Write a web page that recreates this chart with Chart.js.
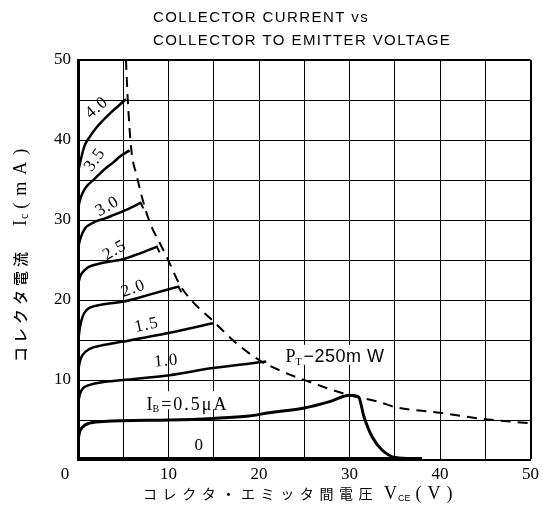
<!DOCTYPE html>
<html>
<head>
<meta charset="utf-8">
<script src="https://cdn.jsdelivr.net/npm/chart.js@4/dist/chart.umd.min.js"></script>
<style>
  html, body { margin: 0; padding: 0; background: #fff; }
</style>
</head>
<body>
<canvas id="c" width="543" height="517"></canvas>
<script>
// values: Vce (V) and Ic (mA) for each base current curve
const vce40 = [0, 0.3, 0.7, 1.3, 2.0, 2.8, 3.6, 4.3, 5.3]
const ic40 = [36, 37.5, 39.2, 40.4, 41.5, 42.5, 43.4, 44.1, 45.1]
const vce35 = [0, 0.3, 0.7, 1.2, 1.7, 2.5, 3.2, 4.0, 4.6, 5.7]
const ic35 = [31.5, 32.8, 33.8, 34.5, 35.0, 35.9, 36.6, 37.3, 37.9, 38.7]
const vce30 = [0, 0.3, 0.8, 1.4, 2.1, 3.0, 3.9, 5.4, 7.0]
const ic30 = [26.5, 27.8, 29.0, 29.5, 29.9, 30.2, 30.6, 31.3, 32.2]
const vce25 = [0, 0.3, 0.8, 1.3, 2.2, 3.5, 5.0, 7.0, 8.8]
const ic25 = [22.0, 23.1, 23.8, 24.2, 24.5, 24.8, 25.1, 25.9, 26.7]
const vce20 = [0, 0.2, 0.5, 1.0, 1.7, 3.0, 5.0, 8.0, 11.2]
const ic20 = [14.6, 16.5, 17.9, 18.8, 19.2, 19.5, 19.8, 20.7, 21.7]
const vce15 = [0, 0.2, 0.5, 1.3, 2.5, 5.0, 10.1, 14.9]
const ic15 = [11.0, 12.3, 13.1, 13.9, 14.3, 14.8, 15.9, 17.1]
const vce10 = [0, 0.2, 0.5, 1.3, 2.5, 5.0, 10.1, 14.9, 20.8]
const ic10 = [7.0, 8.2, 8.9, 9.4, 9.7, 10.0, 10.6, 11.5, 12.3]
const vce05 = [0, 0.2, 0.5, 1.0, 2.8, 10.1, 14.9, 18.9, 21.1, 25.0, 27.8, 30.0, 31.0, 31.6, 32.5, 33.6, 35.1, 37.5]
const ic05 = [2.5, 3.6, 4.1, 4.5, 4.8, 5.0, 5.2, 5.5, 5.9, 6.5, 7.3, 8.1, 7.9, 5.4, 2.9, 1.25, 0.3, 0.15]
const vce00 = [0, 38]
const ic00 = [0.15, 0.15]
// PT = 250 mW limit (dashed)
const vcePt = [5.3, 5.5, 5.9, 6.5, 7.2, 8.0, 9.0, 9.8, 11.2, 12.5, 14.9, 17.5, 20.0, 22.5, 25, 30, 33.3, 35.1, 40, 45, 50]
const icPt = [50, 45, 38.7, 35.5, 32.3, 29.5, 27.2, 25.4, 22.0, 20.0, 17.4, 14.6, 12.5, 11.1, 10, 8.1, 7.25, 6.6, 5.9, 5.1, 4.6]

const xTicks = [10, 20, 30, 40, 50]
const yTicks = [10, 20, 30, 40, 50]

const SERIF = "'Liberation Serif', 'DejaVu Serif', serif"
const SANS = "'Liberation Sans', Arial, sans-serif"
const CJK = "'Noto Sans CJK JP', sans-serif"

const pts = (xs, ys) => xs.map((x, i) => ({ x: x, y: ys[i] }))

const curve = (xs, ys, w) => ({
  data: pts(xs, ys),
  borderColor: '#000',
  borderWidth: w || 2.5,
  pointRadius: 0,
  showLine: true,
  fill: false,
  cubicInterpolationMode: 'monotone'
})

// draw a run of text pieces (for subscripts), centred on x,y
function rich(ctx, parts, x, y, angle, align) {
  ctx.save()
  ctx.translate(x, y)
  ctx.rotate(angle || 0)
  ctx.textBaseline = 'alphabetic'
  ctx.textAlign = 'left'
  let w = 0
  parts.forEach(p => {
    ctx.font = p.f
    ctx.letterSpacing = (p.ls || 0) + 'px'
    p.w = ctx.measureText(p.t).width + (p.gap || 0)
    w += p.w
  })
  let cx = align === 'left' ? 0 : -w / 2
  parts.forEach(p => {
    ctx.font = p.f
    ctx.letterSpacing = (p.ls || 0) + 'px'
    ctx.fillStyle = '#000'
    ctx.fillText(p.t, cx, p.dy || 0)
    cx += p.w
  })
  ctx.restore()
  return w
}

// curve labels, placed in data units
const curveLabels = [
  { t: '4.0', v: 2.4, i: 43.6, a: -40 },
  { t: '3.5', v: 2.3, i: 37.2, a: -55 },
  { t: '3.0', v: 3.5, i: 31.2, a: -30 },
  { t: '2.5', v: 4.3, i: 25.7, a: -30 },
  { t: '2.0', v: 6.3, i: 20.9, a: -20 },
  { t: '1.5', v: 7.7, i: 16.3, a: -12 },
  { t: '1.0', v: 9.8, i: 11.8, a: -5 },
  { t: '0', v: 13.4, i: 1.2, a: 0 }
]

const textPlugin = {
  id: 'texts',
  beforeDatasetsDraw(chart) {
    const ctx = chart.ctx
    const xs = chart.scales.x, ys = chart.scales.y
    const px = v => xs.getPixelForValue(v), py = i => ys.getPixelForValue(i)

    // white patches behind the in-plot labels
    ctx.save()
    ctx.fillStyle = '#fff'
    ctx.fillRect(px(7.1), py(8.6), 96, 18)
    ctx.fillRect(px(22.6), py(14.4), 106, 20)
    ctx.restore()

    curveLabels.forEach(l => {
      rich(ctx, [{ t: l.t, f: '17px ' + SERIF, ls: 1 }], px(l.v), py(l.i), l.a * Math.PI / 180)
    })
    rich(ctx, [
      { t: 'I', f: '18px ' + SERIF },
      { t: 'B', f: '10px ' + SERIF, dy: 2, gap: 2 },
      { t: '=0.5μA', f: '18px ' + SERIF, ls: 2 }
    ], px(12.1), py(6.3))
    rich(ctx, [
      { t: 'P', f: '18px ' + SERIF },
      { t: 'T', f: '10px ' + SERIF, dy: 3, gap: 2 },
      { t: '−250m W', f: '18px ' + SANS, ls: 0.5 }
    ], px(28.4), py(12.2))
  },
  afterDatasetsDraw(chart) {
    // short end marks where the curves meet the dissipation limit
    const ctx = chart.ctx
    const xs = chart.scales.x, ys = chart.scales.y
    const ends = [[vce30, ic30], [vce25, ic25], [vce20, ic20]]
    ctx.save()
    ctx.strokeStyle = '#000'
    ctx.lineWidth = 2
    ends.forEach(([vx, iy]) => {
      const x = xs.getPixelForValue(vx[vx.length - 1]), y = ys.getPixelForValue(iy[iy.length - 1])
      ctx.beginPath()
      ctx.moveTo(x - 1, y)
      ctx.lineTo(x + 2, y + 6)
      ctx.stroke()
    })
    ctx.restore()
  },
  afterDraw(chart) {
    const ctx = chart.ctx
    // title
    rich(ctx, [{ t: 'COLLECTOR CURRENT vs', f: '15px ' + SANS, ls: 1.4 }], 153, 22, 0, 'left')
    rich(ctx, [{ t: 'COLLECTOR TO EMITTER VOLTAGE', f: '15px ' + SANS, ls: 1.4 }], 153, 45, 0, 'left')
    // origin
    rich(ctx, [{ t: '0', f: '17px ' + SERIF }], 65, 479)
    // x axis title
    rich(ctx, [{ t: 'コレクタ・エミッタ間電圧', f: '14px ' + CJK, ls: 5.6 }], 143, 499, 0, 'left')
    rich(ctx, [
      { t: 'V', f: '18px ' + SERIF, gap: 1 },
      { t: 'CE', f: '9px ' + SANS, dy: 2, gap: 5 },
      { t: '(V)', f: '18px ' + SERIF, ls: 6 }
    ], 384, 499, 0, 'left')
    // y axis title, reading upward
    rich(ctx, [
      { t: 'コレクタ電流', f: '500 15px ' + CJK, ls: 4, gap: 22 },
      { t: 'I', f: '18px ' + SERIF, gap: 1 },
      { t: 'c', f: '12px ' + SERIF, dy: 2, gap: 5 },
      { t: '(mA)', f: '18px ' + SERIF, ls: 7 }
    ], 26, 362, -Math.PI / 2, 'left')
  }
}

new Chart(document.getElementById('c'), {
  type: 'scatter',
  data: {
    datasets: [
      curve(vce40, ic40),
      curve(vce35, ic35),
      curve(vce30, ic30),
      curve(vce25, ic25),
      curve(vce20, ic20),
      curve(vce15, ic15),
      curve(vce10, ic10),
      curve(vce05, ic05, 3),
      curve(vce00, ic00, 3.5),
      Object.assign(curve(vcePt, icPt, 2), { borderDash: [10, 7] })
    ]
  },
  options: {
    responsive: false,
    animation: false,
    events: [],
    layout: { padding: { top: 60, right: 11, left: 0, bottom: 0 } },
    plugins: { legend: { display: false }, tooltip: { enabled: false } },
    scales: {
      x: {
        type: 'linear', min: 0, max: 50,
        afterFit: s => { s.height = 57 },
        ticks: {
          stepSize: 5, autoSkip: false, maxRotation: 0, padding: 4, color: '#000',
          font: { family: SERIF, size: 17 },
          callback: v => xTicks.includes(v) ? String(v) : ''
        },
        grid: { color: '#000', drawTicks: false, lineWidth: c => c.tick && c.tick.value === 50 ? 2 : 1 },
        border: { color: '#000', width: 2 }
      },
      y: {
        type: 'linear', min: 0, max: 50,
        afterFit: s => { s.width = 78 },
        ticks: {
          stepSize: 5, autoSkip: false, padding: 7, color: '#000',
          font: { family: SERIF, size: 17 },
          callback: v => yTicks.includes(v) ? String(v) : ''
        },
        grid: { color: '#000', drawTicks: false, lineWidth: c => c.tick && c.tick.value === 50 ? 2 : 1 },
        border: { color: '#000', width: 3 }
      }
    }
  },
  plugins: [textPlugin]
})
</script>
</body>
</html>
